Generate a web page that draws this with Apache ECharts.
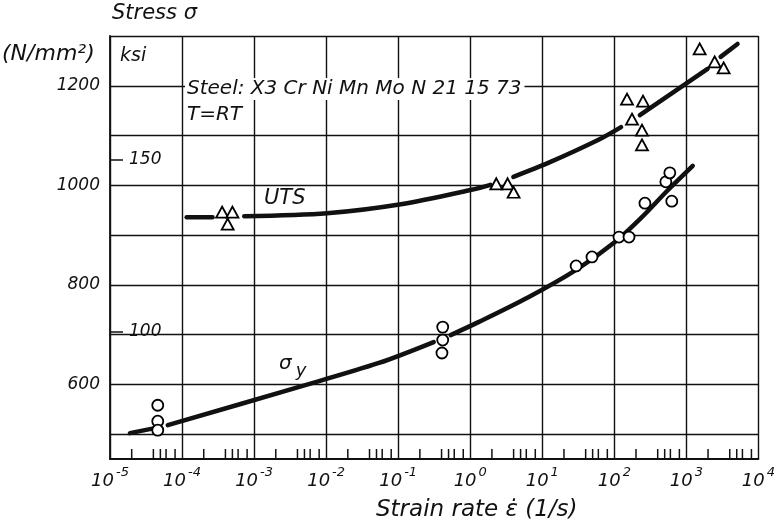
<!DOCTYPE html>
<html><head><meta charset="utf-8">
<script src="https://cdn.jsdelivr.net/npm/echarts@6/dist/echarts.min.js"></script>
<style>html,body{margin:0;padding:0;background:#fff}#c{width:778px;height:530px}</style>
</head><body><div id="c"></div>
<script>
// ---- axes / ticks ----
const xMin = 1e-5, xMax = 1e4;
const yMin = 450, yMax = 1300, yStep = 50;
const yLabelValues = [600, 800, 1000, 1200];
const ksiTickValues = [100, 150];
const ksiAxisMin = 63.0, ksiAxisMax = 185.8;
const decadeExponents = [-5, -4, -3, -2, -1, 0, 1, 2, 3];
const minorMultipliers = [2, 4, 5, 6, 8];

// ---- measured points ----
const utsRate   = [3.6e-4, 5.0e-4, 4.3e-4, 2.3, 3.3, 4.0, 150, 250, 176, 242, 242, 1530, 2470, 3290];
const utsStress = [946, 946, 922, 1003, 1003, 986, 1173, 1169, 1133, 1111, 1081, 1274, 1248, 1236];
const yieldRate   = [4.6e-5, 4.6e-5, 4.6e-5, 0.415, 0.415, 0.405, 29.5, 49, 116, 160, 266, 519, 589, 627];
const yieldStress = [558, 526, 508, 715, 689, 663, 838, 856, 896, 896, 964, 1007, 1025, 968];

// ---- fitted curves (null = gap in the drawn curve) ----
const utsCurveRate   = [1.16e-4, 2.65e-4, null, 7.3e-4, 1.03e-2, 0.109, 1.04, 1.91, null, 3.97, 12.1, 59.4, 124, null, 226, 1970, null, 2990, 5130];
const utsCurveStress = [936, 936, null, 938, 944, 962, 991, 1001, null, 1017, 1045, 1091, 1117, null, 1141, 1234, null, 1258, 1284];
const yieldCurveRate   = [1.89e-5, 4.19e-5, null, 6.34e-5, 4.24e-3, 0.054, 0.311, null, 0.535, 1.30, 6.41, 29.5, 102, 234, 552, 1225];
const yieldCurveStress = [502, 512, null, 518, 595, 643, 685, null, 699, 725, 775, 830, 886, 934, 990, 1039];

const INK = '#111';
const FONT = 'DejaVu Sans';

function segments(xs, ys) {
  const out = []; let cur = [];
  xs.forEach((x, i) => {
    if (x === null) { if (cur.length) out.push(cur); cur = []; }
    else cur.push([x, ys[i]]);
  });
  if (cur.length) out.push(cur);
  return out;
}
const minorTicks = [];
decadeExponents.forEach(e => minorMultipliers.forEach(m => minorTicks.push([m * Math.pow(10, e), yMin])));

const series = [];
segments(utsCurveRate, utsCurveStress).concat(segments(yieldCurveRate, yieldCurveStress)).forEach(seg => {
  series.push({
    type: 'line', data: seg, smooth: 0.3, showSymbol: false, symbol: 'none', z: 3,
    lineStyle: { color: INK, width: 4.5, cap: 'round' }, silent: true
  });
});
series.push({
  type: 'scatter', data: utsRate.map((x, i) => [x, utsStress[i]]), symbol: 'triangle', symbolSize: [12, 11], z: 5,
  itemStyle: { color: '#fff', borderColor: '#000', borderWidth: 1.8, opacity: 1 }
});
series.push({
  type: 'scatter', data: yieldRate.map((x, i) => [x, yieldStress[i]]), symbol: 'circle', symbolSize: 11, z: 5,
  itemStyle: { color: '#fff', borderColor: '#000', borderWidth: 1.8, opacity: 1 }
});
series.push({
  type: 'custom', data: minorTicks, z: 2, silent: true,
  renderItem: (params, api) => {
    const p = api.coord([api.value(0), api.value(1)]);
    return { type: 'line', shape: { x1: p[0], y1: p[1], x2: p[0], y2: p[1] - 10 }, style: { stroke: INK, lineWidth: 1.5 } };
  }
});

function T(text, size, extra) {
  return Object.assign({ text: text, fontSize: size, fontFamily: FONT, fontStyle: 'italic', fill: INK }, extra || {});
}
const chart = echarts.init(document.getElementById('c'), null, { renderer: 'canvas' });
chart.setOption({
  animation: false,
  backgroundColor: '#fff',
  grid: { left: 110, right: 15, top: 36, bottom: 71, containLabel: false },
  xAxis: {
    type: 'log', logBase: 10, min: xMin, max: xMax,
    axisLine: { lineStyle: { color: INK, width: 1.8 } },
    axisTick: { show: false },
    splitLine: { show: true, lineStyle: { color: INK, width: 1.4 } },
    axisLabel: {
      margin: 7, color: INK,
      formatter: v => { const e = Math.round(Math.log10(v)); return '{b|10}{s|' + (e < 0 ? '-' + (-e) : e) + '}'; },
      rich: {
        b: { fontSize: 18, fontFamily: FONT, fontStyle: 'italic', color: INK, lineHeight: 24, verticalAlign: 'bottom' },
        s: { fontSize: 13, fontFamily: FONT, fontStyle: 'italic', color: INK, lineHeight: 24, verticalAlign: 'top', padding: [0, 0, 0, 2] }
      }
    }
  },
  yAxis: [{
    type: 'value', min: yMin, max: yMax, interval: yStep,
    axisLine: { show: true, lineStyle: { color: INK, width: 1.8 } },
    axisTick: { show: false },
    splitLine: { show: true, lineStyle: { color: ['rgba(0,0,0,0)', INK], width: 1.4 } },
    axisLabel: {
      margin: 10, color: INK, fontSize: 17, fontFamily: FONT, fontStyle: 'italic',
      formatter: v => (yLabelValues.indexOf(v) >= 0 ? String(v) : '')
    }
  }, {
    type: 'value', min: ksiAxisMin, max: ksiAxisMax, position: 'left', offset: 0,
    axisLine: { show: false },
    splitLine: { show: false },
    axisTick: { show: true, inside: true, length: 13, customValues: ksiTickValues, lineStyle: { color: INK, width: 1.5 } },
    axisLabel: { show: true, inside: true, margin: 19, customValues: ksiTickValues, color: INK, fontSize: 17, fontFamily: FONT, fontStyle: 'italic' }
  }],
  graphic: [
    { type: 'text', left: 112, top: 3, style: T('Stress σ', 21) },
    { type: 'text', left: 2, top: 43, style: T('(N/mm²)', 22) },
    { type: 'text', left: 120, top: 47, style: T('ksi', 19) },
    { type: 'text', left: 185, top: 78, z: 10, style: T('Steel: X3 Cr Ni Mn Mo N 21 15 73', 20, { backgroundColor: '#fff', padding: [1, 3, 1, 2] }) },
    { type: 'text', left: 185, top: 104, z: 10, style: T('T=RT', 20, { backgroundColor: '#fff', padding: [1, 3, 1, 2] }) },
    { type: 'text', left: 264, top: 188, style: T('UTS', 21) },
    { type: 'text', left: 279, top: 354, style: T('{a|σ}{b|y}', 19, { rich: {
        a: { fontSize: 20, fontFamily: FONT, fontStyle: 'italic', fill: INK, verticalAlign: 'top', lineHeight: 26 },
        b: { fontSize: 18, fontFamily: FONT, fontStyle: 'italic', fill: INK, verticalAlign: 'bottom', lineHeight: 26, padding: [0, 0, 0, 4] } } }) },
    { type: 'text', left: 376, top: 499, style: T('Strain rate ε̇ (1/s)', 23) }
  ],
  series: series
});
</script></body></html>
